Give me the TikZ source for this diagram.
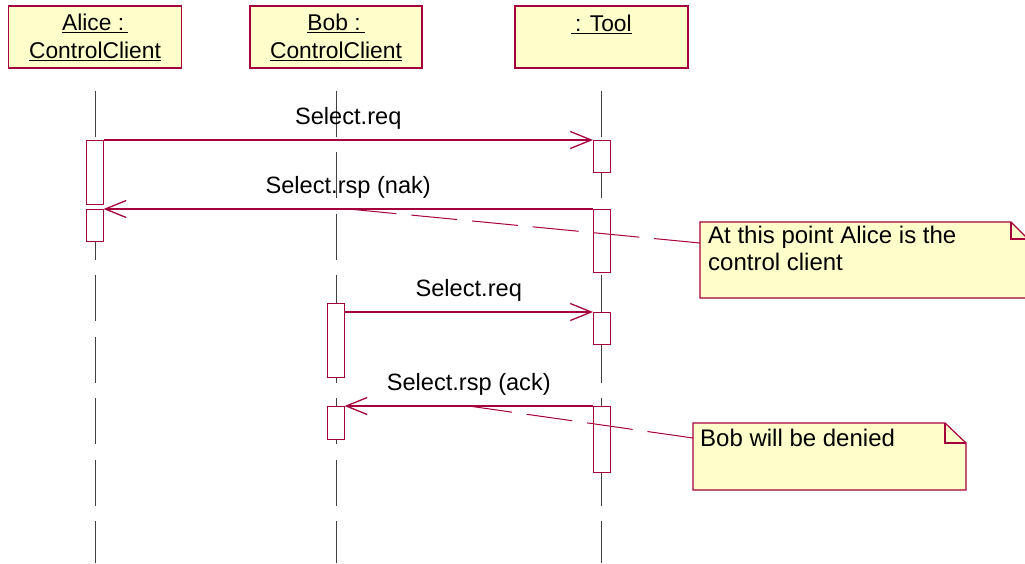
\documentclass[tikz,border=0pt]{standalone}
\usepackage{fontspec}
\setmainfont{Liberation Sans}
\usetikzlibrary{arrows.meta,calc}
\definecolor{crim}{RGB}{165,0,60}
\definecolor{notefill}{RGB}{255,255,204}
\begin{document}
\begin{tikzpicture}[x=1pt,y=-1pt,
  font=\fontsize{22.8}{28}\selectfont,
  head/.style={draw=crim, fill=notefill, line width=1.2pt, minimum width=173pt,
    minimum height=62pt, align=center, inner sep=0pt},
  act/.style={draw=crim, fill=white, line width=1pt, minimum width=17pt,
    inner sep=0pt, outer sep=0pt},
  life/.style={draw=black!75, line width=1pt, dash pattern=on 46pt off 15.5pt},
  msg/.style={draw=crim, line width=1.3pt, -{Straight Barb[length=21pt,width=17pt]}},
  lbl/.style={midway, yshift=22pt, inner sep=0pt, font=\fontsize{23.6}{28}\selectfont},
  notedraw/.style={draw=crim, fill=notefill, line width=1.2pt, line join=miter},
  foldline/.style={draw=crim, line width=1.2pt},
  notelink/.style={draw=crim, line width=1pt, dash pattern=on 46pt off 15pt},
  notetxt/.style={inner sep=0pt, align=left, font=\fontsize{24}{27}\selectfont}
]
\useasboundingbox (0,0) rectangle (1025,563);

% header boxes
\node[head] (alice) at (95,37) {\underline{Alice :\,}\\\underline{ControlClient}};
\node[head, minimum width=172pt] (bob) at (336,37) {\underline{Bob :\,}\\\underline{ControlClient}};
\node[head] (tool) at (601.5,37) {\underline{\,: Tool}\\\phantom{ControlClient}};

% lifeline ends
\coordinate (aliceEnd) at (95,563);
\coordinate (bobEnd) at (336,563);
\coordinate (toolEnd) at (601.5,563);

% lifelines
\draw[life] ([yshift=-22pt]alice.south) -- (aliceEnd);
\draw[life] ([yshift=-22pt]bob.south) -- (bobEnd);
\draw[life] ([yshift=-22pt]tool.south) -- (toolEnd);

% notes
\draw[notedraw] (700,222) -- (1011,222) -- (1028,239) -- (1028,298) -- (700,298) -- cycle;
\draw[foldline] (1011,222) -- (1011,239) -- (1028,239);
\node[notetxt, anchor=north west] (note1) at (708,225.8) {At this point Alice is the\\control client};
\coordinate (note1edge) at (700,243);

\draw[notedraw] (693,423) -- (945,423) -- (966,443) -- (966,490) -- (693,490) -- cycle;
\draw[foldline] (945,423) -- (945,443) -- (966,443);
\node[notetxt, anchor=base west] (note2) at (700,446) {Bob will be denied};
\coordinate (note2edge) at (693,438);

% activation boxes
\node[act, minimum height=64pt] (aA1) at (95,172) {};
\node[act, minimum height=32pt] (aA2) at (95,225) {};
\node[act, minimum height=32pt] (tA1) at (601.5,156) {};
\node[act, minimum height=63pt] (tA2) at (601.5,240.5) {};
\node[act, minimum height=74pt] (bA1) at (336,340) {};
\node[act, minimum height=32pt] (tA3) at (601.5,328) {};
\node[act, minimum height=33pt] (bA2) at (336,422.5) {};
\node[act, minimum height=66pt] (tA4) at (601.5,439) {};

% messages
\draw[msg] (aA1.north east) -- node[lbl] (l1) {Select.req} (tA1.north west);
\draw[msg] (tA2.north west) -- node[lbl] (l2) {Select.rsp (nak)} coordinate[midway] (m2c) (aA2.north east);
\draw[msg] (bA1.east |- tA3.north) -- node[lbl] (l3) {Select.req} (tA3.north west);
\draw[msg] (tA4.north west) -- node[lbl] (l4) {Select.rsp (ack)} coordinate[midway] (m4c) (bA2.north east);

% note links
\draw[notelink] (note1edge) -- (m2c);
\draw[notelink] (note2edge) -- (m4c);
\end{tikzpicture}
\end{document}
